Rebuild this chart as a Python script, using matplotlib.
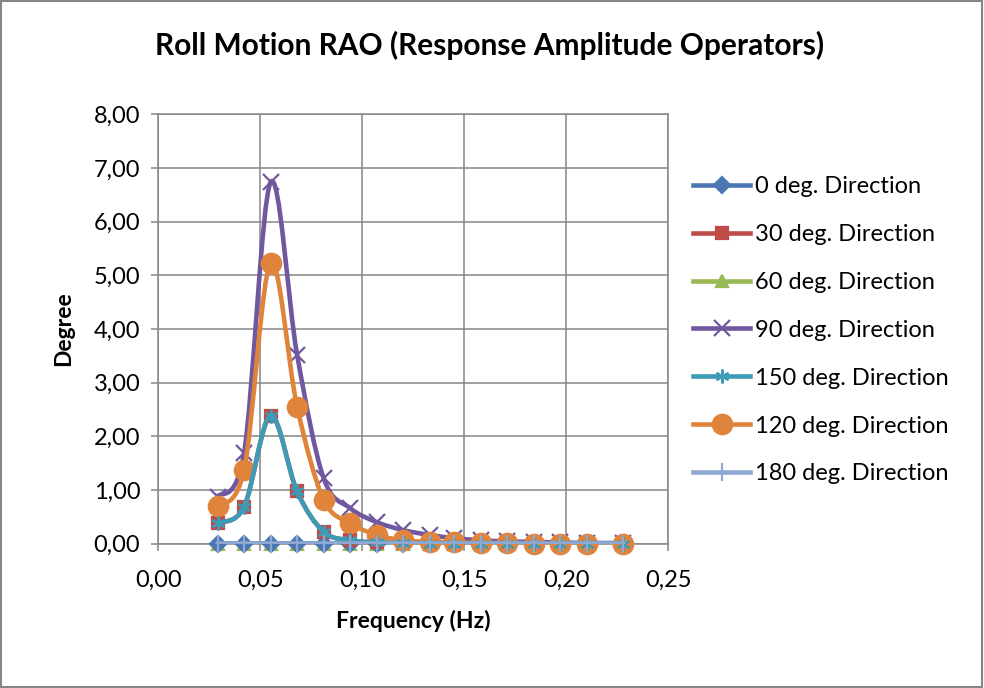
import numpy as np
import matplotlib.pyplot as plt
from matplotlib.path import Path
from matplotlib.patches import PathPatch, Rectangle
from matplotlib.lines import Line2D
from matplotlib.ticker import FuncFormatter, MultipleLocator

plt.rcParams['font.family'] = ['Lato', 'DejaVu Sans']

# dados
freq = [0.029, 0.042, 0.055, 0.068, 0.081, 0.094, 0.107, 0.120,
        0.133, 0.145, 0.158, 0.171, 0.184, 0.197, 0.210, 0.228]
rao_0 = [0.0] * 16
rao_30 = [0.38, 0.68, 2.38, 0.97, 0.22, 0.06, 0.02, 0.01,
          0.0, 0.0, 0.0, 0.0, 0.0, 0.0, 0.0, 0.0]
rao_60 = [0.0] * 16
rao_90 = [0.87, 1.69, 6.73, 3.52, 1.22, 0.66, 0.40, 0.25,
          0.16, 0.10, 0.06, 0.04, 0.03, 0.02, 0.01, 0.01]
rao_150 = [0.38, 0.68, 2.38, 0.97, 0.22, 0.06, 0.02, 0.01,
           0.0, 0.0, 0.0, 0.0, 0.0, 0.0, 0.0, 0.0]
rao_120 = [0.69, 1.37, 5.22, 2.55, 0.82, 0.38, 0.16, 0.06,
           0.03, 0.02, 0.01, 0.01, 0.0, 0.0, 0.0, 0.0]
rao_180 = [0.0] * 16

nomes = ['0 deg. Direction', '30 deg. Direction', '60 deg. Direction',
         '90 deg. Direction', '150 deg. Direction', '120 deg. Direction',
         '180 deg. Direction']
series = [rao_0, rao_30, rao_60, rao_90, rao_150, rao_120, rao_180]
cores = ['#4A77B4', '#BE4B48', '#98B954', '#7058A0', '#3E9BB5', '#E0843C', '#8EA8D3']
marcadores = ['D', 's', '^', 'x', (6, 2, 0), 'o', '|']
tamanhos = [8, 9, 9, 11, 10, 14, 13]
ordem = [3, 4, 2, 5, 7, 6, 8]  # 60 graus fica por baixo do de 0 graus


def curva_suave(x, y):
    # linha suavizada estilo Excel (Catmull-Rom -> Bezier)
    p = np.column_stack([x, y])
    pts = np.vstack([p[0], p, p[-1]])
    verts = [p[0]]
    codes = [Path.MOVETO]
    for i in range(1, len(pts) - 2):
        c1 = pts[i] + (pts[i + 1] - pts[i - 1]) / 6
        c2 = pts[i + 1] - (pts[i + 2] - pts[i]) / 6
        verts += [c1, c2, pts[i + 1]]
        codes += [Path.CURVE4] * 3
    return Path(verts, codes)


fig = plt.figure(figsize=(9.84, 6.88), dpi=100)
ax = fig.add_axes([0.161, 0.21, 0.518, 0.624])

for s, nome, cor, m, ms, z in zip(series, nomes, cores, marcadores, tamanhos, ordem):
    patch = PathPatch(curva_suave(freq, s), facecolor='none', edgecolor=cor,
                      lw=3.3, capstyle='round', joinstyle='round', zorder=z)
    ax.add_patch(patch)
    ax.plot(freq, s, linestyle='none', marker=m, markersize=ms, color=cor,
            markeredgecolor=cor, markeredgewidth=1.6, zorder=z, clip_on=False)

ax.set_xlim(0, 0.25)
ax.set_ylim(0, 8)
ax.xaxis.set_major_locator(MultipleLocator(0.05))
ax.yaxis.set_major_locator(MultipleLocator(1))
virgula = FuncFormatter(lambda v, pos: f'{v:.2f}'.replace('.', ','))
ax.xaxis.set_major_formatter(virgula)
ax.yaxis.set_major_formatter(virgula)
ax.grid(True, color='#868686', lw=1.1)
ax.set_axisbelow(True)
for sp in ax.spines.values():
    sp.set_color('#868686')
    sp.set_linewidth(1.1)
ax.tick_params(direction='out', length=5, width=1.1, color='#868686',
               labelsize=17, pad=8)
ax.tick_params(axis='x', pad=14)

ax.set_xlabel('Frequency (Hz)', fontsize=16.5, fontweight='bold', labelpad=14)
ax.set_ylabel('Degree', fontsize=16.5, fontweight='bold', labelpad=14)
fig.text(0.498, 0.934, 'Roll Motion RAO (Response Amplitude Operators)',
         ha='center', va='center', fontsize=21.5, fontweight='bold')

handles = [Line2D([], [], color=c, lw=3.3, marker=m, markersize=ms,
                  markeredgecolor=c, markeredgewidth=1.6)
           for c, m, ms in zip(cores, marcadores, tamanhos)]
fig.legend(handles, nomes, loc='upper left', bbox_to_anchor=(0.695, 0.758),
           frameon=False, fontsize=17, handlelength=2.4, handletextpad=0.2,
           labelspacing=1.14, borderaxespad=0)

fig.patches.append(Rectangle((0.001, 0.002), 0.997, 0.996, transform=fig.transFigure,
                             fill=False, edgecolor='#868686', lw=1.5))

fig.savefig('out.png', dpi=100)
